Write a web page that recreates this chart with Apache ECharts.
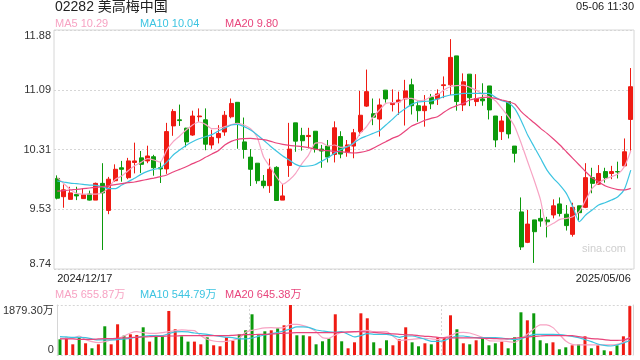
<!DOCTYPE html>
<html><head><meta charset="utf-8">
<script src="https://cdn.jsdelivr.net/npm/echarts@6/dist/echarts.min.js"></script>
<style>html,body{margin:0;padding:0;background:#fff}#c{width:640px;height:360px}</style>
</head><body><div id="c"></div>
<script>
const dates = ['2024/12/17','2024/12/18','2024/12/19','2024/12/20','2024/12/23','2024/12/24','2024/12/27','2024/12/30','2024/12/31',
'2025/01/02','2025/01/03','2025/01/06','2025/01/07','2025/01/08','2025/01/09','2025/01/10','2025/01/13','2025/01/14','2025/01/15','2025/01/16','2025/01/17','2025/01/20','2025/01/21','2025/01/22','2025/01/23','2025/01/24','2025/01/27','2025/01/28',
'2025/02/03','2025/02/04','2025/02/05','2025/02/06','2025/02/07','2025/02/10','2025/02/11','2025/02/12','2025/02/13','2025/02/14','2025/02/17','2025/02/18','2025/02/19','2025/02/20','2025/02/21','2025/02/24','2025/02/25','2025/02/26','2025/02/27','2025/02/28',
'2025/03/03','2025/03/04','2025/03/05','2025/03/06','2025/03/07','2025/03/10','2025/03/11','2025/03/12','2025/03/13','2025/03/14','2025/03/17','2025/03/18','2025/03/19','2025/03/20','2025/03/21','2025/03/24','2025/03/25','2025/03/26','2025/03/27','2025/03/28','2025/03/31',
'2025/04/01','2025/04/02','2025/04/03','2025/04/07','2025/04/08','2025/04/09','2025/04/10','2025/04/11','2025/04/14','2025/04/15','2025/04/16','2025/04/17','2025/04/22','2025/04/23','2025/04/24','2025/04/25','2025/04/28','2025/04/29','2025/04/30',
'2025/05/02','2025/05/06'];

// [open, close, low, high]
const ohlc = [
[9.93,9.67,9.655,9.97],[9.69,9.78,9.545,9.85],[9.655,9.74,9.65,9.82],[9.72,9.70,9.645,9.82],[9.665,9.715,9.66,9.80],
[9.725,9.645,9.64,9.77],[9.645,9.865,9.645,9.875],[9.865,9.74,8.99,10.13],[9.51,9.92,9.46,9.95],[9.90,10.05,9.887,10.115],
[10.07,10.05,9.887,10.16],[9.94,10.16,9.92,10.20],[10.14,10.16,9.996,10.40],[10.20,10.115,10.0,10.29],[10.16,10.225,10.13,10.36],
[10.215,10.07,9.966,10.24],[10.07,10.055,9.87,10.15],[10.055,10.545,9.99,10.66],[10.62,10.81,10.49,10.84],[10.70,10.69,10.62,10.90],
[10.59,10.41,10.34,10.595],[10.50,10.75,10.49,10.82],[10.74,10.75,10.675,10.85],[10.70,10.38,10.30,10.85],[10.37,10.47,10.32,10.57],
[10.465,10.52,10.39,10.63],[10.54,10.76,10.49,10.815],[10.74,10.915,10.72,10.98],[10.93,10.645,10.32,10.93],[10.41,10.31,10.19,10.73],
[10.21,10.05,9.83,10.315],[10.13,9.90,9.86,10.13],[9.895,9.835,9.80,9.975],[9.835,10.05,9.74,10.19],[10.075,9.64,9.64,10.09],
[9.645,9.70,9.645,9.855],[10.10,10.315,9.95,10.66],[10.66,10.42,10.28,10.66],[10.495,10.425,10.295,10.595],[10.48,10.495,10.325,10.595],
[10.55,10.315,10.27,10.55],[10.315,10.29,10.07,10.37],[10.355,10.21,10.14,10.435],[10.245,10.595,10.14,10.68],[10.48,10.25,10.195,10.55],
[10.28,10.37,10.215,10.435],[10.355,10.53,10.195,10.58],[10.545,10.76,10.49,11.08],[10.88,11.07,10.87,11.36],[10.78,10.735,10.63,10.98],
[10.71,10.895,10.48,10.98],[11.09,10.975,10.925,11.09],[10.90,10.925,10.81,11.10],[10.935,10.96,10.765,11.07],[10.975,11.08,10.625,11.225],
[11.16,10.885,10.77,11.24],[10.885,10.82,10.675,10.94],[10.82,10.88,10.61,11.025],[10.995,10.91,10.84,11.04],[10.975,11.04,10.895,11.10],
[11.15,11.16,10.985,11.27],[11.16,11.52,11.025,11.76],[11.54,10.94,10.82,11.54],[10.895,11.20,10.815,11.31],[11.30,10.99,10.88,11.30],
[10.94,10.98,10.88,11.30],[10.975,10.95,10.885,11.18],[11.145,10.83,10.705,11.145],[10.75,10.435,10.34,10.75],[10.545,10.685,10.435,10.75],
[10.94,10.515,10.455,10.94],[10.355,10.26,10.14,10.355],[9.49,9.03,8.99,9.68],[9.09,9.33,9.08,9.515],[9.385,9.23,8.82,9.385],
[9.405,9.37,9.295,9.525],[9.385,9.36,9.155,9.425],[9.45,9.57,9.405,9.655],[9.595,9.47,9.43,9.68],[9.46,9.31,9.245,9.58],
[9.195,9.55,9.165,9.61],[9.57,9.48,9.375,9.57],[9.55,9.94,9.54,10.13],[9.94,9.865,9.735,10.07],[9.855,9.995,9.845,10.105],
[10.02,9.94,9.875,10.07],[9.995,10.02,9.92,10.095],[10.02,10.015,9.93,10.15],[10.095,10.28,10.085,10.455],[10.705,11.135,10.295,11.38]
];

const ma5 = [9.94,9.865,9.786,9.734,9.725,9.725,9.725,9.742,9.813,9.918,
9.961,10.032,10.097,10.141,10.189,10.172,10.145,10.303,10.413,10.487,
10.566,10.632,10.671,10.64,10.583,10.588,10.61,10.636,10.654,10.632,
10.583,10.478,10.216,10.084,9.953,9.856,9.909,9.997,10.128,10.237,
10.391,10.40,10.356,10.369,10.338,10.347,10.391,10.522,10.61,10.732,
10.829,10.916,10.925,10.93,10.982,10.982,10.951,10.96,11.004,11.026,
11.092,11.135,11.149,11.157,11.127,11.092,11.035,11.004,10.951,10.851,
10.741,10.61,10.391,10.15,9.909,9.646,9.296,9.34,9.392,9.405,
9.427,9.493,9.646,9.799,9.874,9.918,9.953,9.988,10.084,10.29];

const ma10 = [9.896,9.883,9.869,9.861,9.852,9.843,9.839,9.821,9.795,9.795,
9.843,9.887,9.931,9.983,10.023,10.049,10.067,10.145,10.237,10.303,
10.364,10.413,10.452,10.478,10.505,10.553,10.592,10.632,10.64,10.61,
10.566,10.505,10.435,10.36,10.29,10.224,10.172,10.115,10.088,10.093,
10.11,10.154,10.202,10.259,10.308,10.347,10.395,10.452,10.487,10.522,
10.557,10.632,10.706,10.785,10.846,10.903,10.934,10.943,10.947,10.973,
11.004,11.026,11.035,11.048,11.048,11.048,11.048,11.048,10.995,10.951,
10.925,10.846,10.689,10.50,10.347,10.194,10.04,9.931,9.843,9.734,
9.559,9.361,9.449,9.515,9.58,9.611,9.646,9.69,9.786,10.04];

const ma20 = [9.764,9.769,9.778,9.786,9.795,9.804,9.813,9.821,9.834,9.848,
9.861,9.874,9.883,9.90,9.918,9.935,9.953,9.975,10.014,10.049,
10.084,10.124,10.159,10.207,10.251,10.294,10.369,10.417,10.443,10.452,
10.456,10.448,10.439,10.421,10.395,10.378,10.365,10.356,10.347,10.334,
10.316,10.303,10.294,10.286,10.281,10.272,10.264,10.272,10.29,10.325,
10.369,10.413,10.456,10.491,10.553,10.619,10.654,10.693,10.719,10.741,
10.798,10.851,10.886,10.916,10.96,10.978,10.995,10.995,10.982,10.96,
10.938,10.908,10.807,10.732,10.662,10.588,10.522,10.448,10.369,10.281,
10.194,10.106,10.018,9.94,9.887,9.834,9.804,9.782,9.778,9.80];

// volume, 万股
const volume = [590,653,402,653,440,252,402,1079,402,1154,
728,778,753,1041,503,753,690,1655,966,703,
503,503,402,665,365,327,665,540,778,928,
1530,741,891,928,1004,1116,1879.3,741,741,703,
402,515,628,1530,515,252,477,1567,1380,477,
252,553,365,590,1041,477,327,440,402,665,
665,1492,966,440,402,553,665,365,440,503,
252,665,1605,1304,1567,553,440,477,214,289,
365,402,703,252,365,177,139,365,703,1838];

const volMa5 = [628,628,628,715,578,502,465,502,565,615,
715,828,878,841,816,816,841,878,916,941,
928,916,728,590,527,502,515,553,640,853,
928,978,1016,1029,1016,1029,1154,1154,1104,1016,
878,653,628,753,853,853,866,903,928,878,
878,878,715,540,565,590,615,628,603,578,
653,728,841,853,828,753,665,540,527,527,
502,477,603,778,978,1129,1129,1029,778,527,
402,377,377,377,377,377,377,402,477,655.87];

const volMa10 = [690,678,665,665,653,603,565,565,565,578,
603,628,665,703,728,728,728,803,866,878,
866,828,803,778,740,703,665,653,603,603,
640,703,753,803,853,903,978,1054,1054,1029,
941,903,866,853,878,778,678,728,803,778,
778,778,728,665,715,715,665,590,515,515,
540,640,715,715,678,653,653,653,653,640,
603,578,615,690,778,778,778,778,765,740,
703,653,578,502,415,364,339,377,452,544.79];

const volMa20 = [603,603,603,590,590,590,603,615,615,628,
640,653,665,678,690,703,703,715,715,728,
728,728,728,728,728,728,728,740,753,765,
765,778,778,791,803,816,828,841,841,841,
841,841,841,841,853,866,878,878,866,853,
828,816,791,778,765,753,728,703,690,665,
640,640,640,640,640,640,628,628,615,603,
603,628,653,678,703,715,728,728,728,728,
728,690,653,615,603,578,553,553,565,645.38];

const priceTickValues = [8.74, 9.525, 10.31, 11.095, 11.88];
const priceTickLabels = ['8.74', '9.53', '10.31', '11.09', '11.88'];
const volMax = 1879.3;
const volTickLabels = ['0', '1879.30万'];
const titleText = '02282 美高梅中国';
const timeText = '05-06 11:30';
const maLegend = ['MA5 10.29', 'MA10 10.04', 'MA20 9.80'];
const volLegend = ['MA5 655.87万', 'MA10 544.79万', 'MA20 645.38万'];
const watermark = 'sina.com';

const RED = '#ef1b13', GREEN = '#0c9a0c';
const C5 = '#f7a3c3', C10 = '#3cc4e1', C20 = '#e8457c';
const MA_COLORS = [C5, C10, C20];
const FONT = 'Arial, "Liberation Sans", "Noto Sans CJK SC", sans-serif';
const GRIDC = '#d6d6d6';
const DOT = [2, 2];

const chart = echarts.init(document.getElementById('c'), null, {renderer: 'canvas'});

function priceLabel(v) {
  let k = 0, best = 1e9;
  priceTickValues.forEach((t, i) => { const d = Math.abs(t - v); if (d < best) { best = d; k = i; } });
  const s = priceTickLabels[k];
  if (k === priceTickValues.length - 1) return '{t|' + s + '}';
  if (k === 0) return '{b|' + s + '}';
  return s;
}
const richTB = {
  t: {padding: [11, 0, 0, 0], fontSize: 11, color: '#333', fontFamily: FONT},
  b: {padding: [0, 0, 11, 0], fontSize: 11, color: '#333', fontFamily: FONT}
};

const legendXs = [55, 140, 225];
const graphics = [
  {type: 'text', left: 55, top: 0, style: {text: titleText, font: '14px ' + FONT, fill: '#222'}},
  {type: 'text', right: 6, top: 1, style: {text: timeText, font: '11px ' + FONT, fill: '#222'}},
  {type: 'text', left: 582, top: 243, style: {text: watermark, font: '11px ' + FONT, fill: '#cfcfcf'}}
];
maLegend.forEach((t, i) => graphics.push({type: 'text', left: legendXs[i], top: 18, style: {text: t, font: '11px ' + FONT, fill: MA_COLORS[i]}}));
volLegend.forEach((t, i) => graphics.push({type: 'text', left: legendXs[i], top: 289, style: {text: t, font: '11px ' + FONT, fill: MA_COLORS[i]}}));

const volData = volume.map((v, i) => ({value: v, itemStyle: {color: ohlc[i][1] >= ohlc[i][0] ? RED : GREEN}}));

function maLine(name, data, color, xi, yi) {
  return {name, type: 'line', data, xAxisIndex: xi, yAxisIndex: yi, showSymbol: false, smooth: 0.2,
    lineStyle: {width: 1.2, color}, itemStyle: {color}, silent: true, z: 3};
}

const option = {
  animation: false,
  textStyle: {fontFamily: FONT},
  graphic: graphics,
  grid: [
    {left: 54, right: 6, top: 30, height: 239, show: true, borderColor: GRIDC, borderWidth: 1},
    {left: 54, right: 7, top: 305, height: 50}
  ],
  xAxis: [
    {type: 'category', gridIndex: 0, data: dates, boundaryGap: true,
     axisLine: {show: false}, axisTick: {show: false}, splitLine: {show: false},
     axisLabel: {interval: 0, margin: 4, fontSize: 11, color: '#222', alignMinLabel: 'left', alignMaxLabel: 'right',
       formatter: (v, i) => (i === 0 || i === dates.length - 1) ? v : ''}},
    {type: 'category', gridIndex: 1, data: dates, boundaryGap: true,
     axisLine: {show: false}, axisTick: {show: false}, axisLabel: {show: false},
     splitLine: {show: true, interval: (i) => i === 30 || i === 60, lineStyle: {color: GRIDC, type: DOT}}}
  ],
  yAxis: [
    {type: 'value', gridIndex: 0, min: 8.74, max: 11.88,
     axisLine: {show: false}, axisTick: {show: false, customValues: priceTickValues},
     axisLabel: {customValues: priceTickValues, margin: 3, fontSize: 11, color: '#333', formatter: priceLabel, rich: richTB},
     splitLine: {show: true, lineStyle: {color: GRIDC, type: DOT}}},
    {type: 'value', gridIndex: 1, min: 0, max: volMax, interval: volMax,
     axisLine: {show: true, lineStyle: {color: GRIDC}}, axisTick: {show: false},
     axisLabel: {margin: 3, fontSize: 11, color: '#333',
       formatter: (v) => v > 0 ? '{t|' + volTickLabels[1] + '}' : '{b|' + volTickLabels[0] + '}', rich: richTB},
     splitLine: {show: true, lineStyle: {color: GRIDC, type: DOT}}},
    {type: 'value', gridIndex: 1, position: 'right', min: 0, max: volMax, interval: volMax,
     axisLine: {show: true, lineStyle: {color: GRIDC}}, axisTick: {show: false}, axisLabel: {show: false}, splitLine: {show: false}}
  ],
  series: [
    {type: 'candlestick', name: 'K', xAxisIndex: 0, yAxisIndex: 0, data: ohlc, barWidth: 4.5,
     itemStyle: {color: RED, color0: GREEN, borderColor: RED, borderColor0: GREEN, borderWidth: 1}, z: 2},
    maLine('MA5', ma5, C5, 0, 0),
    maLine('MA10', ma10, C10, 0, 0),
    maLine('MA20', ma20, C20, 0, 0),
    {type: 'bar', name: 'VOL', xAxisIndex: 1, yAxisIndex: 1, data: volData, barWidth: 3, z: 2},
    maLine('VMA5', volMa5, C5, 1, 1),
    maLine('VMA10', volMa10, C10, 1, 1),
    maLine('VMA20', volMa20, C20, 1, 1)
  ]
};
chart.setOption(option);
</script></body></html>
